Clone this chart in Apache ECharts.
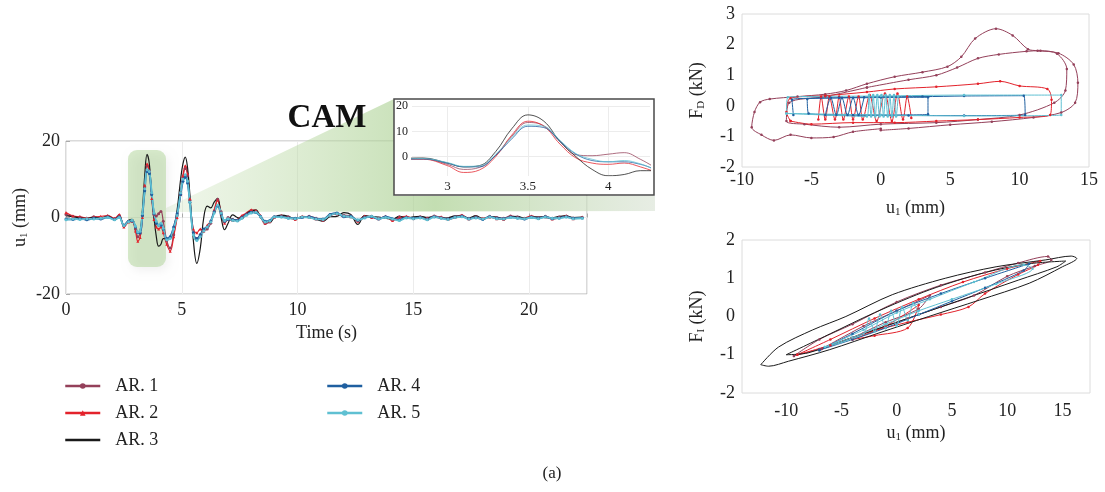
<!DOCTYPE html>
<html>
<head>
<meta charset="utf-8">
<style>
  html, body { margin: 0; padding: 0; background: #fff; }
  #chart { width: 1105px; height: 492px; }
</style>
<script src="https://cdn.jsdelivr.net/npm/echarts@6/dist/echarts.min.js"></script>
</head>
<body>
<div id="chart"></div>
<script>
// time history of u1 (mm), all five records share the same time samples
const tMain = [0,0.3,0.6,0.9,1.2,1.5,1.8,2.1,2.3,
  2.5,2.7,2.85,3.0,3.1,3.2,3.3,3.4,3.5,3.6,3.7,3.8,3.9,4.0,4.1,4.2,4.35,4.5,4.65,4.8,4.95,5.05,5.15,5.25,5.35,5.5,5.65,5.8,5.95,6.1,6.25,6.4,6.55,6.7,6.85,7.0,
  7.2,7.4,7.6,7.8,8.0,8.2,8.4,8.6,8.8,9.0,
  9.3,9.6,9.9,10.2,10.5,10.8,11.1,11.4,11.7,12.0,12.3,12.6,12.9,13.2,13.5,13.8,14.1,14.4,14.7,15.0,
  15.3,15.6,15.9,16.2,16.5,16.8,17.1,17.4,17.7,18.0,18.3,18.6,18.9,19.2,19.5,19.8,20.1,20.4,20.7,21.0,21.3,21.6,21.9,22.3]

const uAR1 = [0.8,0.3,0.1,-0.2,0.2,0.0,0.4,-0.3,0.5,
  -2.2,-1.0,-0.8,-3.0,-5.0,-4.2,0.5,8.0,13.5,12.2,6.2,0.8,0.4,1.0,1.6,-1.0,-6.0,-8.0,-4.5,0.5,6.5,10.5,12.8,11.0,4.5,-4.0,-5.5,-4.5,-3.5,-3.0,-1.5,1.5,4.8,1.5,-1.0,0.0,
  -0.5,-0.8,0.2,1.0,1.8,1.5,0.2,-1.6,-1.2,0.2,
  0.4,0.2,-0.3,0.1,0.3,-0.2,-0.8,0.5,0.9,0.6,0.4,-0.8,0.2,0.3,-0.2,0.1,-0.5,0.2,0.1,-0.3,
  0.2,-0.1,0.4,0.0,-0.3,0.2,0.5,-0.2,0.1,-0.4,0.3,0.0,-0.2,0.4,0.1,-0.3,0.2,0.0,0.3,-0.2,0.1,0.3,-0.1,0.0]
const uAR2 = [1.3,0.4,0.2,-0.1,0.1,0.3,0.5,-0.2,0.8,
  -2.5,-1.2,-1.0,-3.5,-6.2,-5.2,0.0,8.5,14.0,12.0,5.0,-0.5,-2.5,-3.0,-2.5,-4.0,-7.0,-8.8,-5.0,0.0,6.0,11.0,13.5,11.5,5.0,-3.0,-4.0,-3.0,-3.5,-2.0,-1.0,2.0,4.5,1.0,-1.5,-0.5,
  -0.8,-0.5,0.5,1.2,2.0,1.8,0.5,-1.5,-1.0,0.0,
  0.5,0.0,-0.5,0.3,0.1,-0.4,-0.6,0.8,1.0,0.3,0.2,-1.0,0.4,0.0,-0.3,0.3,-0.8,0.0,0.3,-0.2,
  0.1,-0.3,0.3,0.2,-0.5,0.0,0.6,-0.4,0.2,-0.2,0.1,-0.3,-0.5,0.3,0.0,-0.1,0.4,-0.2,0.2,-0.4,0.0,0.5,-0.3,0.1]
const uAR3 = [0.5,0.2,-0.1,-0.3,0.1,-0.2,0.3,-0.4,0.3,
  -2.0,-0.8,-0.5,-2.5,-4.0,-3.5,2.0,11.0,16.5,14.0,6.0,0.0,-5.0,-7.5,-7.0,-5.5,-5.5,-5.5,-3.0,2.0,10.0,14.0,15.8,13.0,6.0,-6.0,-12.0,-8.0,0.0,3.0,2.5,4.0,5.0,0.0,-3.2,-1.5,
  0.7,0.0,-0.3,1.2,1.6,2.0,0.0,-1.0,-1.3,0.0,
  0.6,0.3,-0.4,0.2,0.0,-0.5,-1.0,0.2,0.3,1.3,0.8,-1.8,0.5,0.2,0.1,-0.2,-0.4,0.3,-0.2,0.2,
  0.3,0.0,0.2,-0.2,-0.1,0.4,0.3,-0.1,0.5,-0.3,0.2,0.1,-0.4,0.2,0.3,-0.2,0.1,0.2,0.0,-0.1,0.3,0.4,0.0,0.1]
const uAR4 = [-0.4,-0.5,-0.3,-0.6,-0.2,-0.4,0.1,-0.5,0.2,
  -2.0,-1.0,-0.9,-2.5,-4.0,-4.0,0.5,7.0,12.0,11.5,6.0,1.0,-1.5,-2.0,-2.0,-3.0,-5.5,-5.0,-2.5,1.0,6.0,9.5,10.5,9.0,4.0,-4.0,-5.5,-4.5,-3.0,-2.5,-1.0,1.5,3.0,1.0,-1.0,-0.5,
  -0.6,-0.7,0.0,0.8,1.4,1.3,0.3,-1.0,-0.8,0.2,
  0.2,-0.1,-0.2,0.0,0.2,-0.3,-0.4,0.8,1.2,0.2,0.3,-0.7,0.0,0.2,-0.4,0.2,-0.3,-0.6,0.0,-0.2,
  0.0,-0.5,0.2,-0.1,-0.4,0.1,0.3,-0.3,0.0,-0.5,0.2,-0.2,-0.3,0.1,-0.1,-0.4,0.1,-0.2,0.2,-0.3,-0.1,0.2,-0.2,-0.1]
const uAR5 = [-0.6,-0.4,-0.5,-0.3,-0.4,-0.2,0.0,-0.6,0.0,
  -2.1,-1.1,-0.7,-2.3,-3.8,-3.6,1.0,7.5,12.5,12.0,6.5,1.2,-1.0,-2.0,-1.5,-2.8,-5.8,-5.5,-3.0,0.5,6.5,10.0,11.2,9.5,4.0,-4.5,-6.0,-5.0,-3.5,-2.5,-1.2,1.2,3.2,1.2,-0.8,-0.3,
  -0.8,-0.9,-0.2,0.6,1.2,1.4,0.2,-1.2,-0.9,0.1,
  0.1,-0.2,-0.3,0.1,0.0,-0.4,-0.5,0.6,1.0,0.4,0.1,-0.6,-0.1,0.3,-0.3,0.0,-0.4,-0.8,-0.1,-0.3,
  -0.1,-0.6,0.1,-0.2,-0.5,0.0,0.2,-0.4,-0.1,-0.4,0.1,-0.3,-0.4,0.0,-0.2,-0.3,0.0,-0.3,0.1,-0.2,-0.2,0.1,-0.3,-0.2]

// tick labels
const mainTicksX = [0, 5, 10, 15, 20]
const insetTicksX = [3, 3.5, 4]
const insetTicksY = [0, 10, 20]
const fiTicksX = [-10, -5, 0, 5, 10, 15]

// F_D vs u1 loops  [u1 (mm), F_D (kN)]
const fdAR1a = [[0,-0.75],[-2,-0.85],[-3.4,-1.02],[-5,-1.05],[-6.5,-0.95],[-7.7,-1.13],[-8.6,-0.95],[-9.3,-0.7],[-9.1,-0.2],[-8.7,0.12],[-8,0.22],[-6,0.3],[-4,0.38],[-2.5,0.5],[-1,0.72],[1,0.95],[3,1.1],[4.8,1.28],[5.8,1.6],[6.8,2.2],[8.3,2.52],[9.5,2.3],[10.6,1.85],[11.3,1.8],[12.8,1.72],[13.9,1.35],[14.2,0.75],[14,0.1],[13,-0.22],[11,-0.38],[8,-0.52],[5,-0.62],[2,-0.74],[0,-0.8]]
const fdAR1b = [[-1,0.6],[2,0.85],[4,1.0],[5.5,1.25],[7,1.55],[8.5,1.68],[10.5,1.78],[11.5,1.8],[12.7,1.7],[13.4,1.2],[13.3,0.5],[12.5,0.1],[10,-0.3],[7,-0.45],[4,-0.55],[0,-0.6],[-3,-0.7],[-5.5,-0.6],[-6.8,-0.5],[-6.6,0.1],[-4,0.3],[-1,0.6]]
const fdAR2a = [[-6.5,-0.5],[-6.8,-0.2],[-6.5,0.25],[-4,0.33],[-1,0.45],[1,0.55],[4,0.62],[7,0.72],[8.6,0.8],[10,0.65],[12,0.55],[12.3,0.2],[12.2,-0.3],[10,-0.38],[7,-0.45],[4,-0.5],[1,-0.55],[-2,-0.55],[-5,-0.6],[-6.5,-0.5]]
const fdAR2b = [[-4.5,-0.45],[-4.3,0.3],[-4.0,-0.45],[-3.7,0.3],[-3.3,-0.45],[-3.0,0.3],[-2.7,-0.45],[-2.3,0.3],[-2.0,-0.45],[-1.6,0.3],[-1.3,-0.45],[-0.8,0.35],[-0.3,-0.5],[0.3,0.4],[0.8,-0.5],[1.2,0.4],[1.6,-0.45],[1.9,0.3],[2.2,-0.4]]
const fdAR4 = [[-6.3,-0.3],[-6.4,0.2],[-3,0.26],[0,0.3],[3,0.3],[6,0.32],[10.3,0.33],[10.4,-0.3],[6,-0.32],[2,-0.32],[-2,-0.3],[-5.2,-0.25],[-5.3,0.22],[0,0.27],[3.4,0.28],[3.4,-0.28],[0,-0.3],[-4,-0.3],[-3.6,0.26],[-3.2,-0.3],[-2.8,0.26],[-2.4,-0.3],[-2.0,0.26],[-1.6,-0.3],[-1.2,0.28]]
const fdAR5 = [[-6.8,-0.25],[-6.7,0.28],[0,0.32],[6,0.35],[13,0.35],[13,-0.3],[6,-0.33],[0,-0.3],[-6.8,-0.25],[-1.0,-0.35],[-0.85,0.35],[-0.7,-0.35],[-0.55,0.35],[-0.4,-0.35],[-0.25,0.35],[-0.1,-0.35],[0.05,0.35],[0.2,-0.35],[0.35,0.35],[0.5,-0.35],[0.65,0.35],[0.8,-0.35],[0.95,0.35],[1.1,-0.35],[1.25,0.3]]

// F_I vs u1 loops  [u1 (mm), F_I (kN)]
const fiAR1a = [[-9.3,-1.03],[-7,-0.6],[-4,-0.2],[0,0.38],[4,0.82],[8,1.15],[11,1.4],[13.7,1.57],[14,1.48],[12.5,1.32],[10,1.05],[7,0.55],[4,0.25],[1,-0.05],[-3,-0.45],[-7,-0.85],[-9.3,-1.03]]
const fiAR1b = [[-6.8,-0.85],[-3,-0.25],[0,0.15],[3,0.55],[2,0.2],[-1,-0.15],[-4,-0.55],[-6.8,-0.85]]
const fiAR2a = [[-9,-1.0],[-6,-0.6],[-2,-0.05],[2,0.45],[6,0.9],[10,1.25],[13,1.45],[12.8,1.35],[11,1.1],[8,0.6],[6.5,0.25],[4,0.05],[1,-0.15],[-3,-0.45],[-6,-0.75],[-9,-1.0]]
const fiAR2b = [[-4,-0.6],[-1,-0.25],[2,0.3],[1,-0.3],[-2,-0.5],[-4,-0.6]]
const fiAR3a = [[-12.3,-1.26],[-10.7,-0.8],[-7.6,-0.35],[-4.6,0.0],[-0.4,0.57],[4.4,1.0],[9,1.3],[13.5,1.48],[15.8,1.58],[16.3,1.52],[15,1.3],[12,0.87],[7.5,0.43],[2.9,0.0],[-1.6,-0.43],[-6.1,-0.87],[-9.8,-1.17],[-11.6,-1.3],[-12.3,-1.26]]
const fiAR3b = [[-10,-1.0],[-6,-0.45],[-2,0.1],[3,0.7],[8,1.15],[12,1.38],[15.3,1.45],[14.5,1.3],[11,0.95],[6,0.45],[1,-0.05],[-4,-0.55],[-8,-0.95],[-10,-1.0]]
const fiAR4 = [[-7,-0.88],[-4,-0.45],[0,0.15],[4,0.6],[8,1.0],[12,1.38],[11.5,1.2],[8,0.75],[5,0.4],[2,0.05],[-1,-0.3],[-4,-0.6],[-7,-0.88]]
const fiAR5 = [[-6.5,-0.8],[-3,-0.35],[0,0.1],[3,0.45],[7,0.9],[11.5,1.35],[12.3,1.25],[9,0.85],[5,0.45],[2,0.15],[-1,-0.2],[-4,-0.55],[-6.5,-0.8],[-3,-0.45],[-2.5,-0.05],[-2,-0.4],[-1.5,0.05],[-1,-0.3],[-0.5,0.15],[0,-0.25],[0.5,0.25],[1,-0.1],[1.5,0.35],[2,0.05]]

const names = ['AR. 1', 'AR. 2', 'AR. 3', 'AR. 4', 'AR. 5']
const colors = ['#94405a', '#e3222b', '#1a1a1a', '#1f5fa0', '#5fc0d2']
const symbols = ['circle', 'triangle', 'none', 'circle', 'circle']
const widths = [1.2, 1.2, 1.2, 1.8, 1.8]
const mainValues = [uAR1, uAR2, uAR3, uAR4, uAR5]
const fdLoops = [[fdAR1a, fdAR1b], [fdAR2a, fdAR2b], [], [fdAR4], [fdAR5]]
const fiLoops = [[fiAR1a, fiAR1b], [fiAR2a, fiAR2b], [fiAR3a, fiAR3b], [fiAR4], [fiAR5]]

const serif = '"Liberation Serif", "DejaVu Serif", serif'
const txt = '#222'
const rich = { s: { fontSize: 11, fontFamily: serif, color: txt, padding: [9, 0, 0, 0] } }

let series = []
// main time histories
names.forEach((n, i) => {
  series.push({
    name: n, type: 'line', xAxisIndex: 0, yAxisIndex: 0,
    data: tMain.map((t, k) => [t, mainValues[i][k]]),
    smooth: 0.4, symbol: symbols[i], symbolSize: 3, showSymbol: symbols[i] !== 'none',
    lineStyle: { color: colors[i], width: widths[i] },
    itemStyle: { color: colors[i] }
  })
})
// zoomed inset
names.forEach((n, i) => {
  series.push({
    name: n, type: 'line', xAxisIndex: 1, yAxisIndex: 1,
    data: tMain.map((t, k) => [t, mainValues[i][k]]),
    smooth: 0.4, symbol: 'none', clip: true,
    lineStyle: { color: colors[i], width: 0.9, opacity: 0.85 },
    itemStyle: { color: colors[i] }
  })
})
// hysteresis loops
let hyst = (loops, axis) => {
  loops.forEach((group, i) => {
    group.forEach(loop => {
      series.push({
        name: names[i], type: 'line', xAxisIndex: axis, yAxisIndex: axis,
        data: loop, smooth: 0.3,
        symbol: symbols[i] === 'none' ? 'none' : 'circle', symbolSize: 2.5,
        lineStyle: { color: colors[i], width: 1 },
        itemStyle: { color: colors[i] }
      })
    })
  })
}
hyst(fdLoops, 2)
hyst(fiLoops, 3)

let labelStyle = { fontFamily: serif, fontSize: 18, color: txt }
let legendText = { fontFamily: serif, fontSize: 18, color: txt, padding: [0, 0, 0, 10] }

let option = {
  animation: false,
  backgroundColor: '#fff',
  grid: [
    { left: 66, top: 141, width: 521, height: 153, show: true, borderColor: '#b5b5b5', borderWidth: 1, backgroundColor: 'transparent' },
    { left: 412, top: 106, width: 238, height: 70, show: true, borderColor: '#c0c0c0', borderWidth: 1, backgroundColor: 'transparent' },
    { left: 742, top: 14, width: 347, height: 153, show: true, borderColor: '#dcdcdc', borderWidth: 1, backgroundColor: 'transparent' },
    { left: 742, top: 240, width: 348, height: 153, show: true, borderColor: '#dcdcdc', borderWidth: 1, backgroundColor: 'transparent' }
  ],
  xAxis: [
    {
      gridIndex: 0, type: 'value', min: 0, max: 22.5, interval: 5,
      name: 'Time (s)', nameLocation: 'middle', nameGap: 30, nameTextStyle: labelStyle,
      axisLine: { show: false },
      axisTick: { show: true, inside: true, length: 4, lineStyle: { color: '#aaa' } },
      axisLabel: Object.assign({ margin: 7, customValues: mainTicksX }, labelStyle),
      splitLine: { show: true, lineStyle: { color: '#ececec', width: 1 } }
    },
    {
      gridIndex: 1, type: 'value', min: 2.78, max: 4.26, z: 3,
      axisLine: { show: false },
      axisTick: { show: false, customValues: insetTicksX },
      axisLabel: { customValues: insetTicksX, fontFamily: serif, fontSize: 13, color: txt, margin: 4 },
      splitLine: { show: true, lineStyle: { color: '#ececec' } }
    },
    {
      gridIndex: 2, type: 'value', min: -10, max: 15, interval: 5,
      name: 'u{s|1} (mm)', nameLocation: 'middle', nameGap: 31,
      nameTextStyle: Object.assign({ rich: rich }, labelStyle),
      axisLine: { show: false }, axisTick: { show: false },
      axisLabel: Object.assign({ margin: 4 }, labelStyle),
      splitLine: { show: false }
    },
    {
      gridIndex: 3, type: 'value', min: -14, max: 17.5,
      name: 'u{s|1} (mm)', nameLocation: 'middle', nameGap: 30,
      nameTextStyle: Object.assign({ rich: rich }, labelStyle),
      axisLine: { show: false }, axisTick: { show: false, customValues: fiTicksX },
      axisLabel: Object.assign({ margin: 9, customValues: fiTicksX }, labelStyle),
      splitLine: { show: false }
    }
  ],
  yAxis: [
    {
      gridIndex: 0, type: 'value', min: -20, max: 20, interval: 20,
      name: 'u{s|1} (mm)', nameLocation: 'middle', nameGap: 36,
      nameTextStyle: Object.assign({ rich: rich }, labelStyle),
      axisLine: { show: false },
      axisTick: { show: true, inside: true, length: 4, lineStyle: { color: '#aaa' } },
      axisLabel: Object.assign({ margin: 6 }, labelStyle),
      splitLine: { show: true, lineStyle: { color: '#ececec' } }
    },
    {
      gridIndex: 1, type: 'value', min: -7.6, max: 20, z: 3,
      axisLine: { show: false },
      axisTick: { show: false, customValues: insetTicksY },
      axisLabel: { customValues: insetTicksY, fontFamily: serif, fontSize: 12, color: txt, margin: 4 },
      splitLine: { show: true, lineStyle: { color: '#ececec' } }
    },
    {
      gridIndex: 2, type: 'value', min: -2, max: 3, interval: 1,
      name: 'F{s|D} (kN)', nameLocation: 'middle', nameGap: 35,
      nameTextStyle: Object.assign({ rich: rich }, labelStyle),
      axisLine: { show: false }, axisTick: { show: false },
      axisLabel: Object.assign({ margin: 7 }, labelStyle),
      splitLine: { show: false }
    },
    {
      gridIndex: 3, type: 'value', min: -2, max: 2, interval: 1,
      name: 'F{s|I} (kN)', nameLocation: 'middle', nameGap: 35,
      nameTextStyle: Object.assign({ rich: rich }, labelStyle),
      axisLine: { show: false }, axisTick: { show: false },
      axisLabel: Object.assign({ margin: 7 }, labelStyle),
      splitLine: { show: false }
    }
  ],
  legend: [
    {
      data: ['AR. 1', 'AR. 2', { name: 'AR. 3', itemStyle: { opacity: 0 } }],
      left: 59, top: 372, orient: 'vertical',
      itemWidth: 35, itemHeight: 7, itemGap: 9,
      lineStyle: { width: 2.5 },
      textStyle: legendText
    },
    {
      data: ['AR. 4', 'AR. 5'], left: 321, top: 372, orient: 'vertical',
      itemWidth: 35, itemHeight: 7, itemGap: 9,
      lineStyle: { width: 2.5 },
      textStyle: legendText
    }
  ],
  graphic: [
    {
      type: 'polygon', z: 1, silent: true,
      shape: { points: [[166, 208], [394, 99], [394, 196], [655, 196], [655, 211], [166, 212]] },
      style: {
        fill: new echarts.graphic.LinearGradient(0, 0, 1, 0, [
          { offset: 0, color: 'rgba(195,222,175,0.25)' },
          { offset: 0.55, color: 'rgba(170,208,145,0.7)' },
          { offset: 1, color: 'rgba(215,225,210,0.6)' }
        ])
      }
    },
    {
      type: 'rect', z: 1, silent: true,
      shape: { x: 128, y: 150, width: 38, height: 117, r: 9 },
      style: { fill: 'rgba(160,205,130,0.42)', shadowBlur: 8, shadowOffsetX: 3, shadowOffsetY: 4, shadowColor: 'rgba(0,0,0,0.12)' }
    },
    {
      type: 'rect', z: 1.5, silent: true,
      shape: { x: 394, y: 99, width: 260, height: 96 },
      style: { fill: '#fff', stroke: '#4a4a4a', lineWidth: 1.5 }
    },
    {
      type: 'text', z: 5, x: 327, y: 118, silent: true,
      style: { text: 'CAM', fontFamily: serif, fontWeight: 'bold', fontSize: 33, fill: '#111', align: 'center', verticalAlign: 'middle' }
    },
    {
      type: 'text', z: 5, x: 552, y: 474, silent: true,
      style: { text: '(a)', fontFamily: serif, fontSize: 17, fill: txt, align: 'center', verticalAlign: 'middle' }
    }
  ],
  series: series
}

let chart = echarts.init(document.getElementById('chart'))
chart.setOption(option)
</script>
</body>
</html>
